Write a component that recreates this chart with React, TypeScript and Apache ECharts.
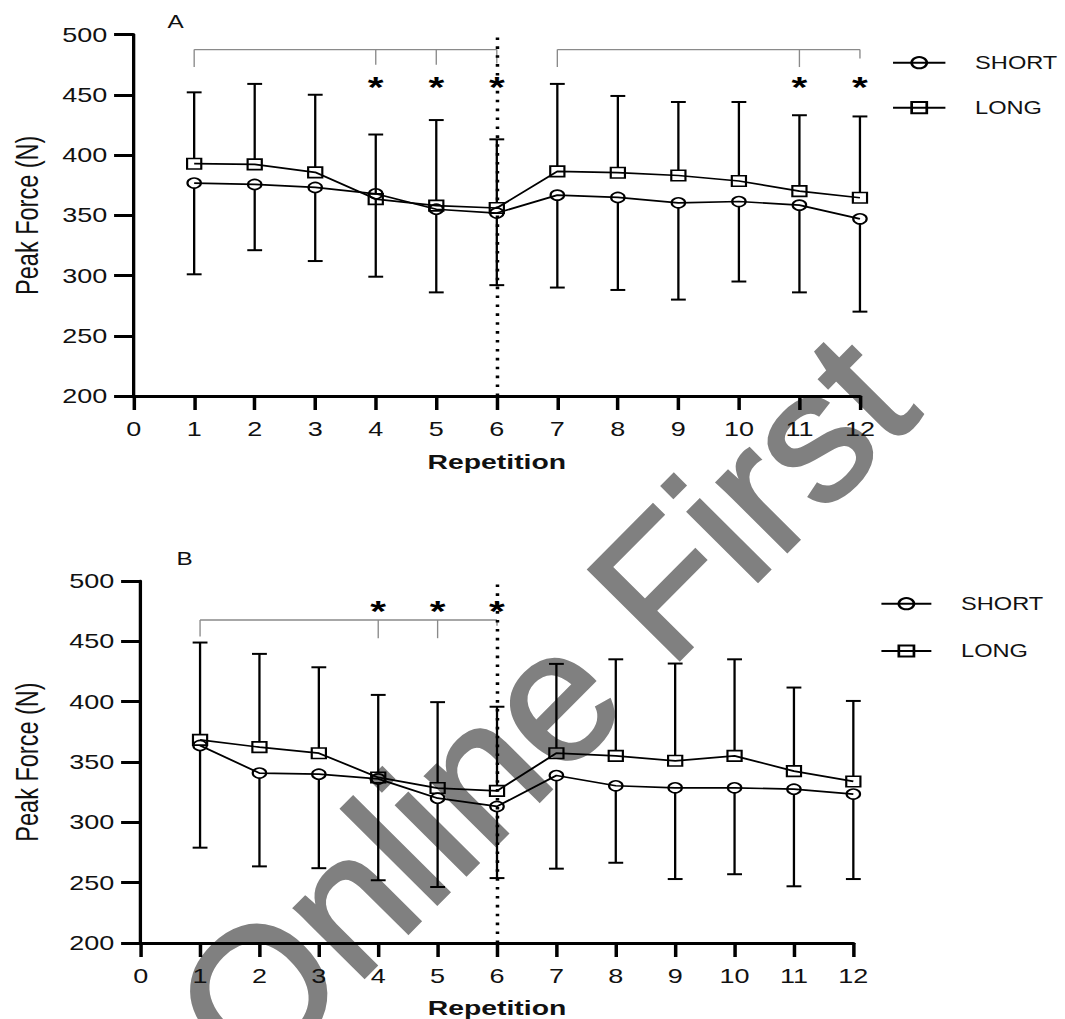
import React, { useEffect, useRef } from "react";
import * as echarts from "echarts";

const STRETCH = 1.35;
const PAGE_W = 1065;
const PAGE_H = 1019;
const CHART_W = PAGE_W / STRETCH;
const FONT = '"Liberation Sans", Arial, Helvetica, sans-serif';

const reps = [1, 2, 3, 4, 5, 6, 7, 8, 9, 10, 11, 12];
const seriesNames = ["SHORT", "LONG"];
const panelLabels = ["A", "B"];
const xAxisTitle = "Repetition";
const yAxisTitle = "Peak Force (N)";
const watermarkText = "Online First";
const dividerRep = 6;
const yMin = 200;
const yMax = 500;
const yStep = 50;
const xMin = 0;
const xMax = 12;
const xStep = 1;

// Panel A
const shortA = [376.7, 375.6, 373.1, 367.8, 355, 351.8, 366.7, 364.8, 360.3, 361.4, 358.4, 347];
const shortALower = [301, 321, 312, 299, 286, 292, 290, 288, 280, 295, 286, 270];
const longA = [392.8, 392.2, 385.6, 363.4, 358, 356, 386.4, 385.3, 383, 378.4, 370, 364.5];
const longAUpper = [452, 459, 450, 417, 429, 413, 459, 449, 444, 444, 433, 432];
const bracketSpanA = [[1, 6, 487.5], [7, 12, 487.5]];
const bracketDropA = [[1, 487.5, 473], [4, 487.5, 475], [5, 487.5, 475], [6, 487.5, 476], [7, 487.5, 473], [11, 487.5, 473], [12, 487.5, 480]];
const starRepsA = [4, 5, 6, 11, 12];
const starLevelA = 462;

// Panel B
const shortB = [363.7, 340.8, 339.9, 336, 320, 313.2, 338.8, 330.3, 328.6, 328.6, 327.5, 323.4];
const shortBLower = [279, 263.5, 262, 252, 246.4, 253.8, 261.6, 266.5, 253, 257, 247, 253];
const longB = [368.3, 362.3, 357.3, 337.2, 328.4, 326.1, 357.3, 355.1, 351, 355.1, 342.4, 333.9];
const longBUpper = [449, 439.6, 428.5, 405.6, 399.6, 395.8, 431.3, 435.1, 431.6, 435.1, 411.7, 400.6];
const bracketSpanB = [[1, 6, 467.7]];
const bracketDropB = [[1, 467.7, 454], [4, 467.7, 452.6], [5, 467.7, 452.6], [6, 467.7, 463]];
const starRepsB = [4, 5, 6];
const starLevelB = 481;

const panels = [
  { short: shortA, shortLow: shortALower, long: longA, longUp: longAUpper, spans: bracketSpanA, drops: bracketDropA, stars: starRepsA, starLevel: starLevelA },
  { short: shortB, shortLow: shortBLower, long: longB, longUp: longBUpper, spans: bracketSpanB, drops: bracketDropB, stars: starRepsB, starLevel: starLevelB },
];

const layouts = [
  { grid: { left: 97.8, top: 34.5, width: 539.2, height: 361.5 }, yNameGap: 67, xNameGap: 55, legend: { left: 660.5, top: 53.7, itemGap: 27, itemWidth: 38.8 }, label: [130, 21.7] },
  { grid: { left: 104.2, top: 581, width: 527.9, height: 362.5 }, yNameGap: 72, xNameGap: 54, legend: { left: 651.9, top: 594.7, itemGap: 29.3, itemWidth: 37 }, label: [136.7, 559] },
];

function errorBars(g: number, means: number[], ends: number[], up: boolean) {
  return {
    type: "custom",
    xAxisIndex: g,
    yAxisIndex: g,
    silent: true,
    z: 2,
    encode: { x: 0, y: [1, 2] },
    data: reps.map((r, i) => [r, means[i], ends[i]]),
    renderItem: (_p: any, api: any) => {
      const x = api.value(0);
      const m = api.coord([x, api.value(1)]);
      const e = api.coord([x, api.value(2)]);
      const y0 = m[1] + (up ? -5 : 5);
      return {
        type: "group",
        children: [
          { type: "line", shape: { x1: m[0], y1: y0, x2: e[0], y2: e[1] }, style: { stroke: "#000", lineWidth: 1.7 } },
          { type: "line", shape: { x1: e[0] - 5.5, y1: e[1], x2: e[0] + 5.5, y2: e[1] }, style: { stroke: "#000", lineWidth: 2 } },
        ],
      };
    },
  };
}

function bracketSeries(g: number, spans: number[][], drops: number[][]) {
  return [
    {
      type: "custom",
      xAxisIndex: g,
      yAxisIndex: g,
      silent: true,
      z: 1,
      encode: { x: [0, 1], y: 2 },
      data: spans,
      renderItem: (_p: any, api: any) => {
        const a = api.coord([api.value(0), api.value(2)]);
        const b = api.coord([api.value(1), api.value(2)]);
        return { type: "line", shape: { x1: a[0], y1: a[1], x2: b[0], y2: b[1] }, style: { stroke: "#8a8a8a", lineWidth: 1.3 } };
      },
    },
    {
      type: "custom",
      xAxisIndex: g,
      yAxisIndex: g,
      silent: true,
      z: 1,
      encode: { x: 0, y: [1, 2] },
      data: drops,
      renderItem: (_p: any, api: any) => {
        const a = api.coord([api.value(0), api.value(1)]);
        const b = api.coord([api.value(0), api.value(2)]);
        return { type: "line", shape: { x1: a[0], y1: a[1], x2: b[0], y2: b[1] }, style: { stroke: "#8a8a8a", lineWidth: 1 } };
      },
    },
  ];
}

function starSeries(g: number, xs: number[], level: number) {
  return {
    type: "custom",
    xAxisIndex: g,
    yAxisIndex: g,
    silent: true,
    z: 4,
    encode: { x: 0, y: 1 },
    data: xs.map((x) => [x, level]),
    renderItem: (_p: any, api: any) => {
      const p = api.coord([api.value(0), api.value(1)]);
      return {
        type: "text",
        x: p[0],
        y: p[1] + 7,
        style: { text: "*", fill: "#000", font: `bold 30px ${FONT}`, align: "center", verticalAlign: "middle", textAlign: "center", textVerticalAlign: "middle" },
      };
    },
  };
}

function buildOption() {
  const grids: any[] = [];
  const xAxes: any[] = [];
  const yAxes: any[] = [];
  const legends: any[] = [];
  const series: any[] = [];
  const graphics: any[] = [];

  panels.forEach((pd, g) => {
    const L = layouts[g];
    grids.push({ ...L.grid, containLabel: false });
    xAxes.push({
      type: "value",
      gridIndex: g,
      min: xMin,
      max: xMax,
      interval: xStep,
      splitLine: { show: false },
      axisLine: { show: true, onZero: false, lineStyle: { color: "#000", width: 3.2 } },
      axisTick: { show: true, length: 14, lineStyle: { color: "#000", width: 2.6 } },
      axisLabel: { fontSize: 20, color: "#111", margin: 23, fontFamily: FONT },
      name: xAxisTitle,
      nameLocation: "middle",
      nameGap: L.xNameGap,
      nameTextStyle: { fontSize: 21, fontWeight: "bold", color: "#111", fontFamily: FONT },
    });
    yAxes.push({
      type: "value",
      gridIndex: g,
      min: yMin,
      max: yMax,
      interval: yStep,
      splitLine: { show: false },
      axisLine: { show: true, onZero: false, lineStyle: { color: "#000", width: 2.45 } },
      axisTick: { show: true, length: 14.5, lineStyle: { color: "#000", width: 3 } },
      axisLabel: { fontSize: 20, color: "#111", margin: 19.5, fontFamily: FONT },
      name: yAxisTitle,
      nameLocation: "middle",
      nameGap: L.yNameGap,
      nameTextStyle: { fontSize: 23.5, color: "#111", fontFamily: FONT },
    });
    legends.push({
      left: L.legend.left,
      top: L.legend.top,
      orient: "vertical",
      padding: 0,
      itemWidth: L.legend.itemWidth,
      itemHeight: 14,
      itemGap: L.legend.itemGap,
      selectedMode: false,
      data: seriesNames,
      textStyle: { fontSize: 17.5, color: "#111", fontFamily: FONT, padding: [0, 0, 0, 17] },
    });

    series.push({
      name: seriesNames[0],
      type: "line",
      xAxisIndex: g,
      yAxisIndex: g,
      data: reps.map((r, i) => [r, pd.short[i]]),
      symbol: "circle",
      symbolSize: 10,
      z: 3,
      itemStyle: { color: "rgba(255,255,255,0)", borderColor: "#000", borderWidth: 1.6 },
      lineStyle: { color: "#000", width: 1.7 },
      markLine: {
        silent: true,
        symbol: ["none", "none"],
        label: { show: false },
        lineStyle: { color: "#000", width: 2.6, type: [2.6, 6.3] },
        data: [{ xAxis: dividerRep }],
      },
    });
    series.push({
      name: seriesNames[1],
      type: "line",
      xAxisIndex: g,
      yAxisIndex: g,
      data: reps.map((r, i) => [r, pd.long[i]]),
      symbol: "rect",
      symbolSize: 10.5,
      z: 3,
      itemStyle: { color: "rgba(255,255,255,0)", borderColor: "#000", borderWidth: 1.6 },
      lineStyle: { color: "#000", width: 1.7 },
    });
    series.push(errorBars(g, pd.long, pd.longUp, true));
    series.push(errorBars(g, pd.short, pd.shortLow, false));
    series.push(...bracketSeries(g, pd.spans, pd.drops));
    series.push(starSeries(g, pd.stars, pd.starLevel));

    graphics.push({
      type: "text",
      x: L.label[0],
      y: L.label[1],
      style: { text: panelLabels[g], fill: "#111", font: `18px ${FONT}`, align: "center", verticalAlign: "middle" },
    });
  });

  return {
    animation: false,
    backgroundColor: "transparent",
    grid: grids,
    xAxis: xAxes,
    yAxis: yAxes,
    legend: legends,
    series,
    graphic: graphics,
  };
}

export default function App() {
  const wmRef = useRef<HTMLDivElement>(null);
  const chartRef = useRef<HTMLDivElement>(null);

  useEffect(() => {
    const wm = echarts.init(wmRef.current!, null, { renderer: "svg" });
    wm.setOption({
      animation: false,
      backgroundColor: "#ffffff",
      graphic: [
        {
          type: "text",
          x: 543,
          y: 706,
          rotation: (45.2 * Math.PI) / 180,
          style: {
            text: watermarkText,
            fill: "#808080",
            stroke: "#808080",
            lineWidth: 3,
            font: `186px ${FONT}`,
            align: "center",
            verticalAlign: "middle",
          },
        },
      ],
    });
    const chart = echarts.init(chartRef.current!, null, { renderer: "svg" });
    chart.setOption(buildOption());
    return () => {
      chart.dispose();
      wm.dispose();
    };
  }, []);

  return (
    <div style={{ position: "absolute", left: 0, top: 0, width: PAGE_W, height: PAGE_H, overflow: "hidden", background: "#fff" }}>
      <div ref={wmRef} style={{ position: "absolute", left: 0, top: 0, width: PAGE_W, height: PAGE_H }} />
      <div
        ref={chartRef}
        style={{
          position: "absolute",
          left: 0,
          top: 0,
          width: CHART_W,
          height: PAGE_H,
          transform: `scaleX(${STRETCH})`,
          transformOrigin: "0 0",
        }}
      />
    </div>
  );
}
